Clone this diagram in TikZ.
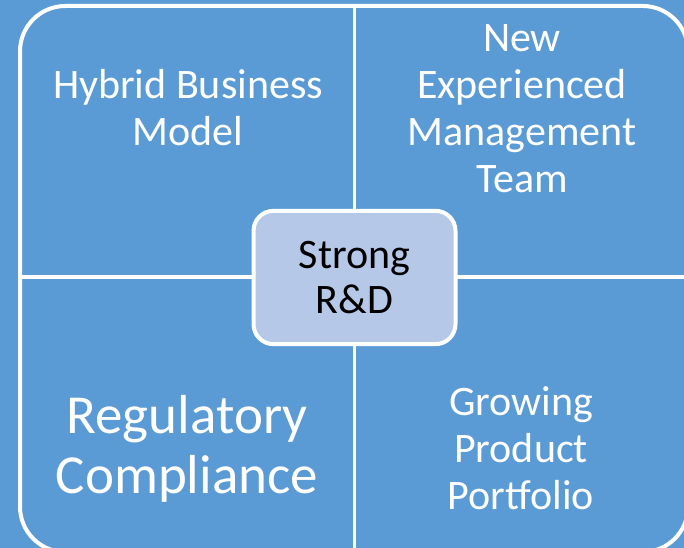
\documentclass[tikz,border=0pt]{standalone}
\usepackage{fontspec}
\setmainfont{Carlito}

\definecolor{quadblue}{RGB}{91,155,213}
\definecolor{hubblue}{RGB}{182,200,232}

\tikzset{every picture/.style={line width=0.75pt}}
\tikzset{
	quadtext/.style={text=white, align=center, font=\fontsize{31.5}{35.25}\selectfont},
	bigtext/.style={text=white, align=center, font=\fontsize{41.25}{45}\selectfont},
	hubbox/.style={draw=white, line width=3pt, fill=hubblue, rounded corners=15pt,
		minimum width=151.5pt, minimum height=100pt, align=center,
		font=\fontsize{31.5}{33.75}\selectfont}}

\begin{document}
\begin{tikzpicture}[x=0.75pt,y=0.75pt,yscale=-1,xscale=1]
	\useasboundingbox (0,0) rectangle (684,548);

	%Shape: Rectangle [background]
	\fill [quadblue] (0,0) rectangle (684,548);
	%Shape: Rounded Rectangle [outer frame]
	\draw [white, line width=3pt, rounded corners=34pt] (20,6) rectangle (688,552);
	%Straight Lines [dividers]
	\draw [white, line width=2.5pt] (354.5,6) -- (354.5,552);
	\draw [white, line width=2.5pt] (20,277) -- (688,277);

	% Text Node
	\node (hybrid) at (188,108) [quadtext] {Hybrid Business\\Model};
	% Text Node
	\node (team) at (522,109) [quadtext] {New\\Experienced\\Management\\Team};
	% Text Node
	\node (regulatory) at (187,449) [bigtext] {Regulatory\\Compliance};
	% Text Node
	\node (portfolio) at (521,448) [quadtext] {Growing\\Product\\Portfolio};
	% Hub Node
	\node (rnd) at (354.5,277.5) [hubbox] {Strong\\R\&D};

\end{tikzpicture}
\end{document}
